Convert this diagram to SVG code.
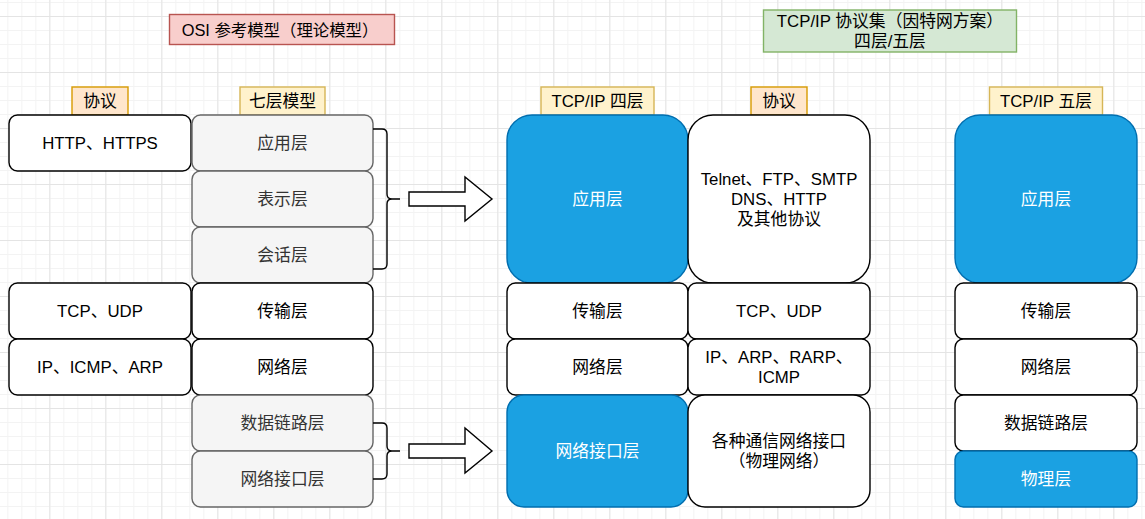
<svg xmlns="http://www.w3.org/2000/svg" width="1145" height="519" viewBox="0 0 1145 519">
<style>
text{font-family:"Liberation Sans","Noto Sans CJK SC",sans-serif;font-size:16.8px;text-anchor:middle;dominant-baseline:central;fill:#000}
.w{fill:#fff;stroke:#000;stroke-width:1.4}
.g{fill:#f5f5f5;stroke:#666;stroke-width:1.4}
.gt{fill:#333}
.b{fill:#1ba1e2;stroke:#006eaf;stroke-width:1.4}
.bt{fill:#fff}
.o{fill:#ffe6cc;stroke:#d79b00;stroke-width:1.4}
.y{fill:#fff2cc;stroke:#d6b656;stroke-width:1.4}
.brace{fill:none;stroke:#000;stroke-width:1.4}
.arrow{fill:#fff;stroke:#000;stroke-width:1.4;stroke-linejoin:miter}
</style>
<defs>
<pattern id="minor" patternUnits="userSpaceOnUse" x="7.3" y="2" width="14" height="14">
<path d="M0,0.5H14M0.5,0V14" fill="none" stroke="#f3f3f3" stroke-width="1"/>
</pattern>
<pattern id="major" patternUnits="userSpaceOnUse" x="49.3" y="16" width="56" height="56">
<path d="M0,0.5H56M0.5,0V56" fill="none" stroke="#e4e4e4" stroke-width="1"/>
</pattern>
</defs>
<rect width="1145" height="519" fill="#fff"/>
<rect width="1145" height="519" fill="url(#minor)"/>
<rect width="1145" height="519" fill="url(#major)"/>

<g id="title-osi"><rect x="169.5" y="14.5" width="225" height="30" fill="#f8cecc" stroke="#b85450" stroke-width="1.4"/><text x="280" y="29.5" style="font-size:16.4px">OSI 参考模型（理论模型）</text></g>
<g id="title-tcpip"><rect x="763.5" y="10" width="253" height="42" fill="#d5e8d4" stroke="#82b366" stroke-width="1.4"/><text x="890" y="21">TCP/IP 协议集（因特网方案）</text><text x="890" y="41">四层/五层</text></g>

<g id="hdr-proto-left"><rect class="o" x="72" y="87" width="56" height="28"/><text x="100" y="101">协议</text></g>
<g id="hdr-seven"><rect class="y" x="240" y="87" width="85" height="28"/><text x="282.5" y="101">七层模型</text></g>
<g id="hdr-four"><rect class="y" x="541" y="87" width="113" height="28"/><text x="597.5" y="101">TCP/IP 四层</text></g>
<g id="hdr-proto-mid"><rect class="o" x="751" y="87" width="56" height="28"/><text x="779" y="101">协议</text></g>
<g id="hdr-five"><rect class="y" x="989.5" y="87" width="113" height="28"/><text x="1046" y="101">TCP/IP 五层</text></g>

<g id="lp-http"><rect class="w" x="9" y="115" width="182" height="56" rx="8.4"/><text x="100" y="143">HTTP、HTTPS</text></g>
<g id="lp-tcp"><rect class="w" x="9" y="283" width="182" height="56" rx="8.4"/><text x="100" y="311">TCP、UDP</text></g>
<g id="lp-ip"><rect class="w" x="9" y="339" width="182" height="56" rx="8.4"/><text x="100" y="367">IP、ICMP、ARP</text></g>

<g id="s-app"><rect class="g" x="192" y="115" width="181" height="56" rx="8.4"/><text class="gt" x="282.5" y="143">应用层</text></g>
<g id="s-pres"><rect class="g" x="192" y="171" width="181" height="56" rx="8.4"/><text class="gt" x="282.5" y="199">表示层</text></g>
<g id="s-sess"><rect class="g" x="192" y="227" width="181" height="56" rx="8.4"/><text class="gt" x="282.5" y="255">会话层</text></g>
<g id="s-trans"><rect class="w" x="192" y="283" width="181" height="56" rx="8.4"/><text x="282.5" y="311">传输层</text></g>
<g id="s-net"><rect class="w" x="192" y="339" width="181" height="56" rx="8.4"/><text x="282.5" y="367">网络层</text></g>
<g id="s-link"><rect class="g" x="192" y="395" width="181" height="56" rx="8.4"/><text class="gt" x="282.5" y="423">数据链路层</text></g>
<g id="s-phys"><rect class="g" x="192" y="451" width="181" height="56" rx="8.4"/><text class="gt" x="282.5" y="479">网络接口层</text></g>

<g id="f-app"><rect class="b" x="507" y="115" width="181" height="168" rx="25"/><text class="bt" x="597.5" y="199">应用层</text></g>
<g id="f-trans"><rect class="w" x="507" y="283" width="181" height="56" rx="8.4"/><text x="597.5" y="311">传输层</text></g>
<g id="f-net"><rect class="w" x="507" y="339" width="181" height="56" rx="8.4"/><text x="597.5" y="367">网络层</text></g>
<g id="f-if"><rect class="b" x="507" y="395" width="181" height="112" rx="17"/><text class="bt" x="597.5" y="451">网络接口层</text></g>

<g id="mp-app"><rect class="w" x="688" y="115" width="182" height="168" rx="25"/><text x="779" y="179">Telnet、FTP、SMTP</text><text x="779" y="199">DNS、HTTP</text><text x="779" y="219">及其他协议</text></g>
<g id="mp-tcp"><rect class="w" x="688" y="283" width="182" height="56" rx="8.4"/><text x="779" y="311">TCP、UDP</text></g>
<g id="mp-ip"><rect class="w" x="688" y="339" width="182" height="56" rx="8.4"/><text x="779" y="357">IP、ARP、RARP、</text><text x="779" y="377">ICMP</text></g>
<g id="mp-if"><rect class="w" x="688" y="395" width="182" height="112" rx="17"/><text x="779" y="441">各种通信网络接口</text><text x="779" y="461">（物理网络）</text></g>

<g id="v-app"><rect class="b" x="955" y="115" width="182" height="168" rx="25"/><text class="bt" x="1046" y="199">应用层</text></g>
<g id="v-trans"><rect class="w" x="955" y="283" width="182" height="56" rx="8.4"/><text x="1046" y="311">传输层</text></g>
<g id="v-net"><rect class="w" x="955" y="339" width="182" height="56" rx="8.4"/><text x="1046" y="367">网络层</text></g>
<g id="v-link"><rect class="w" x="955" y="395" width="182" height="56" rx="8.4"/><text x="1046" y="423">数据链路层</text></g>
<g id="v-phys"><rect class="b" x="955" y="451" width="182" height="56" rx="8.4"/><text class="bt" x="1046" y="479">物理层</text></g>

<g id="connectors">
<path class="brace" d="M373,129H382Q387,129 387,134V194Q387,199 392,199H400M392,199Q387,199 387,204V264Q387,269 382,269H373"/>
<path class="brace" d="M373,423H382Q387,423 387,428V446Q387,451 392,451H400M392,451Q387,451 387,456V474Q387,479 382,479H373"/>
<polygon class="arrow" points="409,192 465,192 465,177 492,199 465,221 465,206 409,206"/>
<polygon class="arrow" points="409,444 465,444 465,428 492,451 465,473 465,458 409,458"/>
</g>
</svg>
